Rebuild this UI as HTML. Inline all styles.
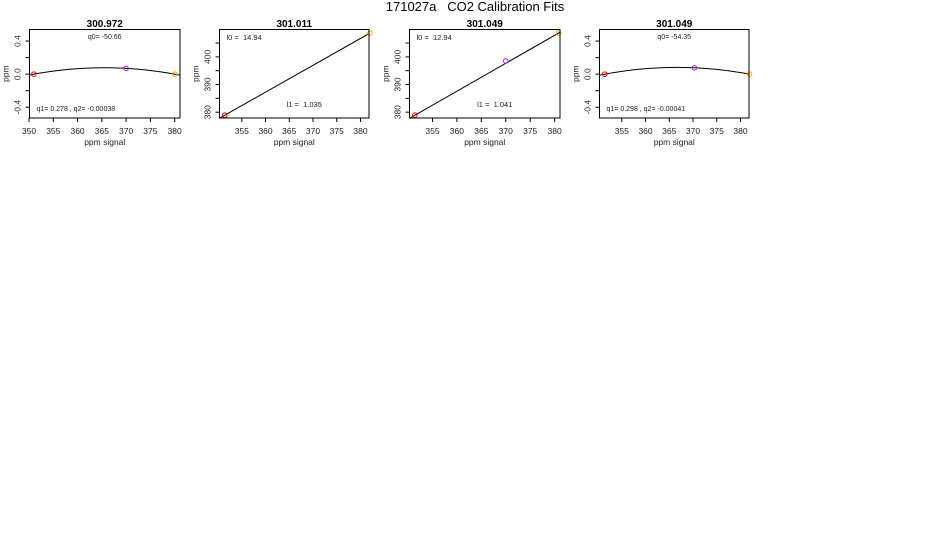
<!DOCTYPE html>
<html><head><meta charset="utf-8"><style>
body{margin:0;background:#fff;}
svg{display:block;font-family:"Liberation Sans",sans-serif;}
</style></head><body>
<svg id="c" width="950" height="550">
<text x="475" y="11" text-anchor="middle" font-size="13" fill="#000" style="white-space:pre">171027a   CO2 Calibration Fits</text>
</svg>
<script>
// Panel data
const panelTitles = ["300.972", "301.011", "301.049", "301.049"];
const panelTypes = ["quad", "lin", "lin", "quad"];
const signalX = [[351.0, 370.0, 380.0], [351.4, 382.0], [351.4, 370.0, 380.8], [351.4, 370.3, 381.9]];
const valueY = [[0.0, 0.07, 0.0], [378.9, 408.6], [378.9, 398.5, 408.6], [0.0, 0.077, 0.0]];
const pointColors = [["#ff0000", "#a020f0", "#ffa500"], ["#ff0000", "#ffa500"], ["#ff0000", "#a020f0", "#ffa500"], ["#ff0000", "#a020f0", "#ffa500"]];
const topNotes = ["q0= -50.66", "l0 =  14.94", "l0 =  12.94", "q0= -54.35"];
const bottomNotes = ["q1= 0.278 , q2= -0.00038", "l1 =  1.035", "l1 =  1.041", "q1= 0.298 , q2= -0.00041"];
const xTickLabels = [[350, 355, 360, 365, 370, 375, 380], [355, 360, 365, 370, 375, 380], [355, 360, 365, 370, 375, 380], [355, 360, 365, 370, 375, 380]];
const quadYTicks = [-0.4, -0.2, 0.0, 0.2, 0.4];
const linYTicks = [380, 385, 390, 395, 400, 405];

const NS = "http://www.w3.org/2000/svg";
const svgEl = document.getElementById('c');
const boxes = [{l:29.5,r:180,xmin:350.1,xmax:381.1},{l:219.5,r:369,xmin:350.3,xmax:381.8},{l:409.5,r:560,xmin:350.3,xmax:381.1},{l:599.5,r:749,xmin:350.3,xmax:381.8}];
const plotTop=29.5, plotBot=118;
function mk(tag, attrs, parent){const e=document.createElementNS(NS,tag);for(const k in attrs)e.setAttribute(k,attrs[k]);(parent||svgEl).appendChild(e);return e;}

panelTitles.forEach((title,i)=>{
  const b=boxes[i];
  const g=mk('g',{});
  
  
  const quad=panelTypes[i]==='quad';
  const ymin=quad?-0.53:377.9, ymax=quad?0.54:409.9;
  const sx=v=>b.l+(v-b.xmin)/(b.xmax-b.xmin)*(b.r-b.l);
  const sy=v=>plotBot-(v-ymin)/(ymax-ymin)*(plotBot-plotTop);
  const cp=mk('clipPath',{id:'cp'+i},g);
  mk('rect',{x:b.l,y:plotTop,width:b.r-b.l,height:plotBot-plotTop},cp);
  const xs=signalX[i], ys=valueY[i];
  let d='';
  if(quad){
    const x0=xs[0], x2=xs[xs.length-1], xm=xs[1], ym=ys[1];
    const k=ym/((xm-x0)*(x2-xm));
    for(let s=0;s<=60;s++){const x=b.xmin+(b.xmax-b.xmin)*s/60;const y=k*(x-x0)*(x2-x);d+=(s?'L':'M')+sx(x).toFixed(2)+','+sy(y).toFixed(2);}
  } else {
    const n=xs.length, sl=(ys[n-1]-ys[0])/(xs[n-1]-xs[0]);
    const f=x=>ys[0]+sl*(x-xs[0]);
    d='M'+sx(b.xmin-2)+','+sy(f(b.xmin-2))+'L'+sx(b.xmax+2)+','+sy(f(b.xmax+2));
  }
  const fl=mk('path',{d:d,stroke:'#000','stroke-width':1,fill:'none','clip-path':'url(#cp'+i+')'},g);
  
  
  xs.forEach((x,j)=>{
    const c=mk('circle',{cx:sx(x),cy:sy(ys[j]),r:2.3,fill:'none',stroke:pointColors[i][j],'stroke-width':1},g);
    
    
  });
  const bx=mk('rect',{x:b.l,y:plotTop,width:b.r-b.l,height:plotBot-plotTop,fill:'none',stroke:'#000','stroke-width':1},g);
  
  
  const t=mk('text',{x:(b.l+b.r)/2,y:27,'text-anchor':'middle','font-size':10,'font-weight':'bold'},g);
  t.textContent=title;
  
  
  xTickLabels[i].forEach(v=>{
    const x=sx(v);
    mk('line',{x1:x,x2:x,y1:plotBot,y2:plotBot+4,stroke:'#000'},g);
    const tl=mk('text',{x:x,y:134,'text-anchor':'middle','font-size':8.5,fill:'#222'},g);
    tl.textContent=v;
    
    
  });
  const xl=mk('text',{x:(b.l+b.r)/2,y:145,'text-anchor':'middle','font-size':8.5,fill:'#222'},g);
  xl.textContent='ppm signal';
  
  
  const yt=quad?quadYTicks:linYTicks;
  yt.forEach((v,j)=>{
    const y=sy(v);
    mk('line',{x1:b.l-4,x2:b.l,y1:y,y2:y,stroke:'#000'},g);
    if(j%2===0){
      const tl=mk('text',{x:0,y:0,'text-anchor':'middle','font-size':8.5,fill:'#222',transform:'translate('+(b.l-9)+','+y+') rotate(-90)'},g);
      tl.textContent=quad?v.toFixed(1):v;
      
      
    }
  });
  const yl=mk('text',{x:0,y:0,'text-anchor':'middle','font-size':8.5,fill:'#222',transform:'translate('+(b.l-21)+','+((plotTop+plotBot)/2)+') rotate(-90)'},g);
  yl.textContent='ppm';
  
  
  const tn=mk('text',quad?{x:(b.l+b.r)/2,y:39,'text-anchor':'middle','font-size':7,fill:'#222'}:{x:b.l+7,y:40,'font-size':7.5,fill:'#222',style:'white-space:pre'},g);
  tn.textContent=topNotes[i];
  
  
  const bn=mk('text',quad?{x:b.l+7,y:111,'font-size':7,fill:'#222'}:{x:(b.l+b.r)/2+10,y:107,'text-anchor':'middle','font-size':7.5,fill:'#222',style:'white-space:pre'},g);
  bn.textContent=bottomNotes[i];
  
  
});
</script>
</body></html>
